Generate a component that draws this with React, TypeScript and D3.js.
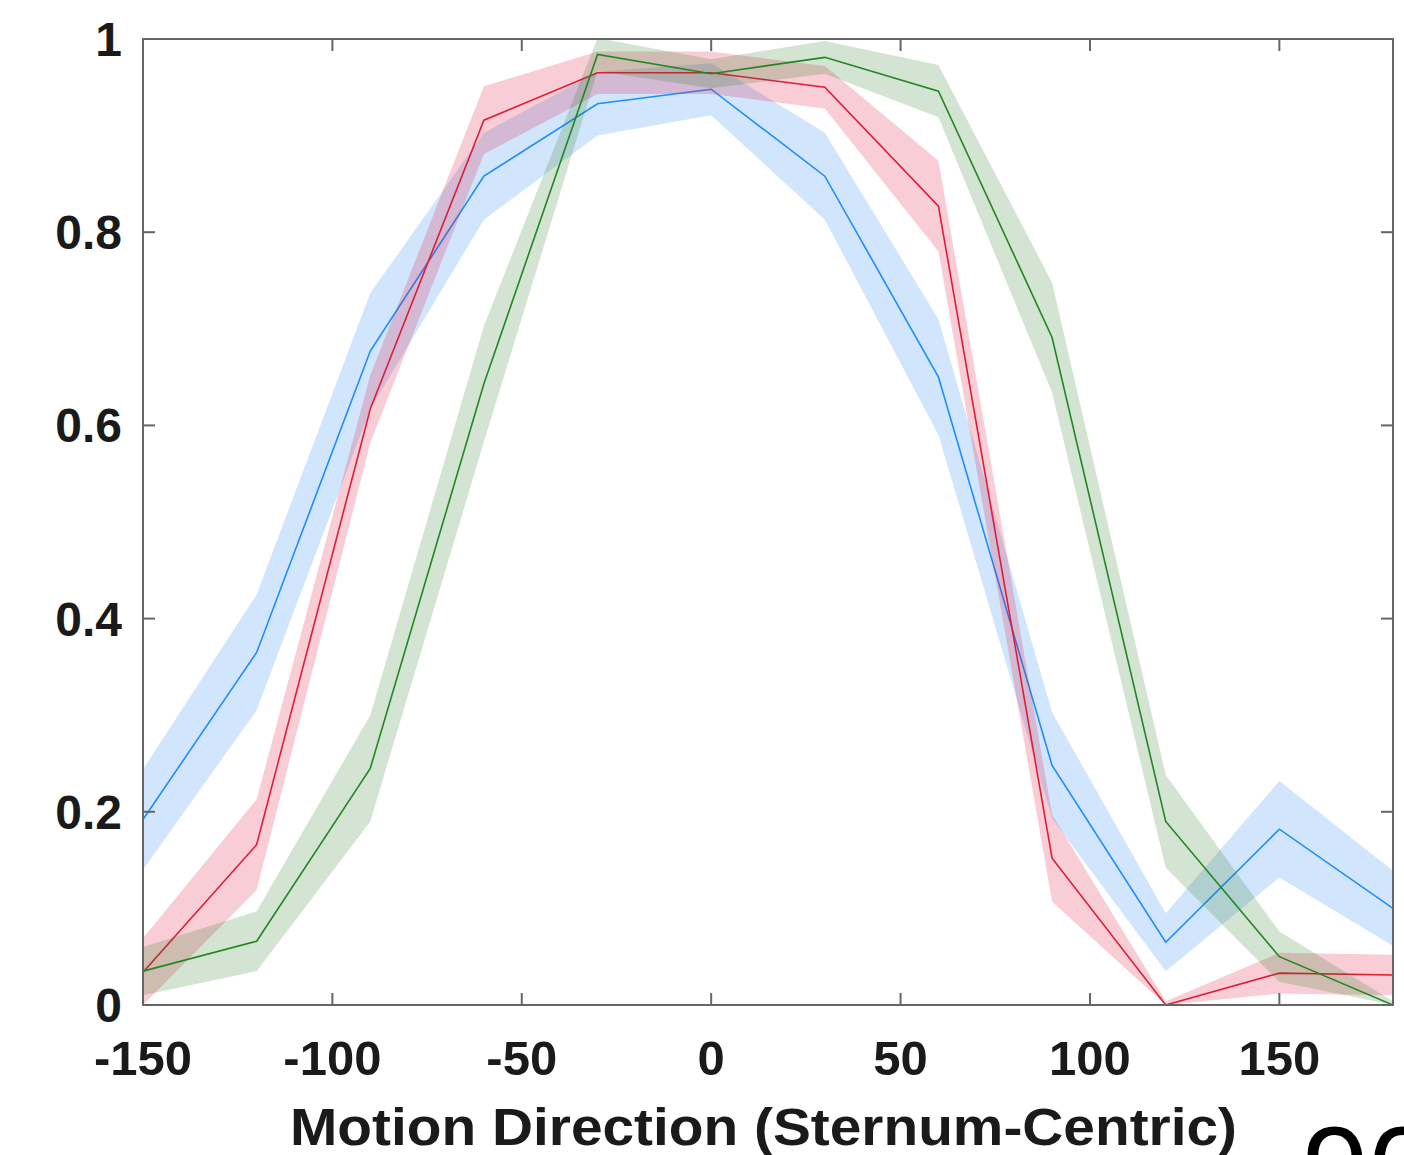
import React from "react";
import * as d3 from "d3";

const directions = [-150, -120, -90, -60, -30, 0, 30, 60, 90, 120, 150, 180];
const blueMean = [0.192, 0.365, 0.677, 0.858, 0.933, 0.948, 0.858, 0.65, 0.248, 0.065, 0.182, 0.1];
const blueErr = [0.052, 0.06, 0.06, 0.045, 0.033, 0.027, 0.045, 0.06, 0.055, 0.03, 0.05, 0.039];
const redMean = [0.034, 0.166, 0.617, 0.916, 0.965, 0.965, 0.95, 0.827, 0.152, 0.0, 0.033, 0.031];
const redErr = [0.035, 0.047, 0.035, 0.035, 0.022, 0.022, 0.022, 0.047, 0.045, 0.004, 0.021, 0.021];
const greenMean = [0.035, 0.066, 0.245, 0.643, 0.984, 0.964, 0.981, 0.946, 0.691, 0.19, 0.05, 0.0];
const greenErr = [0.025, 0.031, 0.055, 0.06, 0.017, 0.015, 0.017, 0.027, 0.057, 0.048, 0.026, 0.004];

const xTicks = [-150, -100, -50, 0, 50, 100, 150];
const yTicks = [0, 0.2, 0.4, 0.6, 0.8, 1];
const yTickLabels = ["0", "0.2", "0.4", "0.6", "0.8", "1"];
const xLabel = "Motion Direction (Sternum-Centric)";
const cornerText = "90";

const series = [
  { name: "blue", mean: blueMean, err: blueErr, line: "rgb(30,140,255)", fill: "rgb(0,114,240)", alpha: 0.18 },
  { name: "red", mean: redMean, err: redErr, line: "rgb(222,30,55)", fill: "rgb(220,20,60)", alpha: 0.21 },
  { name: "green", mean: greenMean, err: greenErr, line: "rgb(34,135,34)", fill: "rgb(40,120,30)", alpha: 0.2 },
];

export default function App() {
  const W = 1404;
  const H = 1155;
  const left = 143, right = 1393, top = 39, bottom = 1005;
  const x = d3.scaleLinear().domain([-150, 180]).range([left, right]);
  const y = d3.scaleLinear().domain([0, 1]).range([bottom, top]);
  const tickLen = 12;
  const axisColor = "#666";

  return (
    <svg
      width={W}
      height={H}
      style={{ position: "absolute", left: 0, top: 0, background: "#fff" }}
      fontFamily="'Liberation Sans', Arial, Helvetica, sans-serif"
    >
      <defs>
        <clipPath id="plotClip">
          <rect x={left} y={top} width={right - left} height={bottom - top} />
        </clipPath>
      </defs>
      <rect x={0} y={0} width={W} height={H} fill="#fff" />
      <g clipPath="url(#plotClip)">
        {series.map((s) => {
          const pts = directions.map((d, i) => ({ d, m: s.mean[i], e: s.err[i] }));
          const area = d3
            .area<any>()
            .x((p) => x(p.d))
            .y0((p) => y(Math.max(0, p.m - p.e)))
            .y1((p) => y(p.m + p.e));
          const line = d3
            .line<any>()
            .x((p) => x(p.d))
            .y((p) => y(p.m));
          return (
            <g key={s.name}>
              <path d={area(pts) || ""} fill={s.fill} fillOpacity={s.alpha} stroke="none" />
              <path d={line(pts) || ""} fill="none" stroke={s.line} strokeWidth={1.6} />
            </g>
          );
        })}
      </g>
      {/* frame */}
      <rect x={left} y={top} width={right - left} height={bottom - top} fill="none" stroke={axisColor} strokeWidth={2} />
      {xTicks.map((t) => (
        <g key={"xt" + t}>
          <line x1={x(t)} x2={x(t)} y1={bottom} y2={bottom - tickLen} stroke={axisColor} strokeWidth={2} />
          <line x1={x(t)} x2={x(t)} y1={top} y2={top + tickLen} stroke={axisColor} strokeWidth={2} />
          <text x={x(t)} y={1075} textAnchor="middle" fontSize={49} fontWeight="bold" fill="#1a1a1a">
            {t}
          </text>
        </g>
      ))}
      {yTicks.map((t, i) => (
        <g key={"yt" + t}>
          <line x1={left} x2={left + tickLen} y1={y(t)} y2={y(t)} stroke={axisColor} strokeWidth={2} />
          <line x1={right} x2={right - tickLen} y1={y(t)} y2={y(t)} stroke={axisColor} strokeWidth={2} />
          <text
            x={122}
            y={y(t) + 17}
            textAnchor="end"
            fontSize={48}
            fontWeight="bold"
            fill="#1a1a1a"
          >
            {yTickLabels[i]}
          </text>
        </g>
      ))}
      <text
        x={290}
        y={1145}
        fontSize={51}
        fontWeight="bold"
        fill="#1a1a1a"
        textLength={947}
        lengthAdjust="spacingAndGlyphs"
      >
        {xLabel}
      </text>
      <text x={1302} y={1211} fontSize={120} fill="#000">
        {cornerText}
      </text>
    </svg>
  );
}
